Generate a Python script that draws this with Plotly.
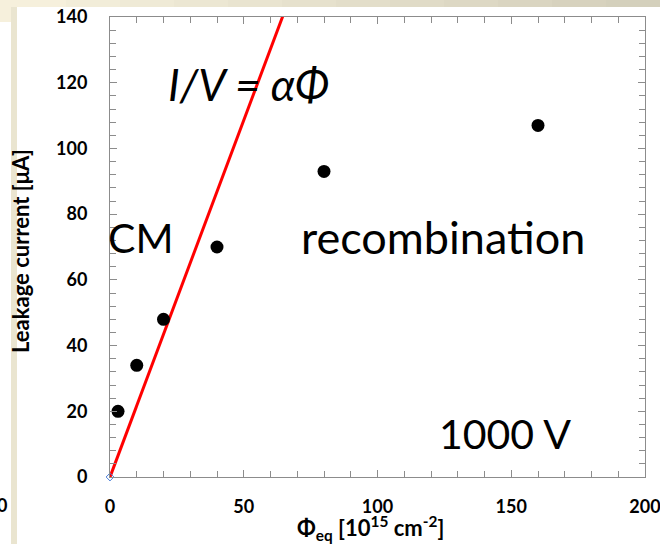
import plotly.graph_objects as go

# Data
fluence = [3, 10, 20, 40, 80, 160]
leak_current = [20, 34, 48, 70, 93, 107]
fit_x = [0, 70]
fit_y = [0, 152]
x_ticks = [0, 50, 100, 150, 200]
y_ticks = [0, 20, 40, 60, 80, 100, 120, 140]

W, H = 660, 544
L, R, T, B = 110, 15, 17, 67
pw, ph = W - L - R, H - T - B

def px(x):
    return (x - L) / pw

def py(y):
    return (H - B - y) / ph

fig = go.Figure()
fig.add_trace(go.Scatter(x=fit_x, y=fit_y, mode="lines",
                         line=dict(color="#ff0000", width=3), hoverinfo="skip"))
fig.add_trace(go.Scatter(x=fluence, y=leak_current, mode="markers",
                         marker=dict(color="black", size=13), cliponaxis=False))
fig.add_trace(go.Scatter(x=[0], y=[0], mode="markers",
                         marker=dict(symbol="diamond-open", color="#4a7ed8", size=6,
                                     line=dict(width=1)), cliponaxis=False))

tickfont = dict(family="Lato", size=18, color="black")
axis_common = dict(showgrid=False, zeroline=False, showline=True, linecolor="#8c8c8c",
                   linewidth=1, ticks="inside", tickcolor="#8c8c8c", ticklen=7,
                   mirror="allticks", tickfont=tickfont, automargin=False,
                   ticklabeloverflow="allow")

fig.update_xaxes(range=[0, 200], tickvals=x_ticks,
                 ticktext=["<b>%d</b>" % v for v in x_ticks], ticklabelstandoff=13,
                 minor=dict(dtick=10, ticks="inside", ticklen=6, tickcolor="#8c8c8c"),
                 **axis_common)
fig.update_yaxes(range=[0, 140], tickvals=y_ticks,
                 ticktext=["<b>%d</b>" % v for v in y_ticks], ticklabelstandoff=18,
                 minor=dict(dtick=4, ticks="inside", ticklen=6, tickcolor="#8c8c8c"),
                 **axis_common)

# background slide decorations
shapes = []
n = 12
c0 = (246, 240, 220)
c1 = (212, 208, 188)
for i in range(n):
    t = i / (n - 1)
    col = "rgb(%d,%d,%d)" % tuple(int(c0[k] + (c1[k] - c0[k]) * t) for k in range(3))
    x0 = 12 + (W - 12) * i / n
    x1 = 12 + (W - 12) * (i + 1) / n
    shapes.append(dict(type="rect", xref="paper", yref="paper", x0=px(x0), x1=px(x1) + 0.002,
                       y0=py(7), y1=py(0), fillcolor=col, line=dict(width=0), layer="below"))
shapes.append(dict(type="rect", xref="paper", yref="paper", x0=px(0), x1=px(12),
                   y0=py(22), y1=py(0), fillcolor="rgb(246,240,220)", line=dict(width=0), layer="below"))
shapes.append(dict(type="rect", xref="paper", yref="paper", x0=px(11), x1=px(17),
                   y0=py(544), y1=py(7), fillcolor="rgb(234,229,208)", line=dict(width=0), layer="below"))

def af(size):
    return dict(family="Lato", size=size, color="black")

annotations = [
    dict(x=px(248), y=py(84), xref="paper", yref="paper", text="<i>I/V = αΦ</i>",
         showarrow=False, font=af(44), xanchor="center", yanchor="middle"),
    dict(x=px(140), y=py(237), xref="paper", yref="paper", text="CM",
         showarrow=False, font=af(41), xanchor="center", yanchor="middle"),
    dict(x=px(443), y=py(237), xref="paper", yref="paper", text="recombination",
         showarrow=False, font=af(45), xanchor="center", yanchor="middle"),
    dict(x=px(505), y=py(433), xref="paper", yref="paper", text="1000 V",
         showarrow=False, font=af(41), xanchor="center", yanchor="middle"),
    dict(x=px(2), y=py(505), xref="paper", yref="paper", text="<b>0</b>",
         showarrow=False, font=tickfont, xanchor="center", yanchor="middle"),
    dict(x=px(21), y=py(251), xref="paper", yref="paper", text="<b>Leakage current [μA]</b>",
         textangle=-90, showarrow=False, font=af(22),
         xanchor="center", yanchor="middle"),
    dict(x=px(370), y=py(528), xref="paper", yref="paper",
         text="<b>Φ<sub>eq</sub> [10<sup>15</sup> cm<sup>-2</sup>]</b>", showarrow=False,
         font=af(22), xanchor="center", yanchor="middle"),
]

fig.update_layout(width=W, height=H, margin=dict(l=L, r=R, t=T, b=B),
                  paper_bgcolor="white", plot_bgcolor="white", showlegend=False,
                  shapes=shapes, annotations=annotations)

fig.write_html("out.html")
